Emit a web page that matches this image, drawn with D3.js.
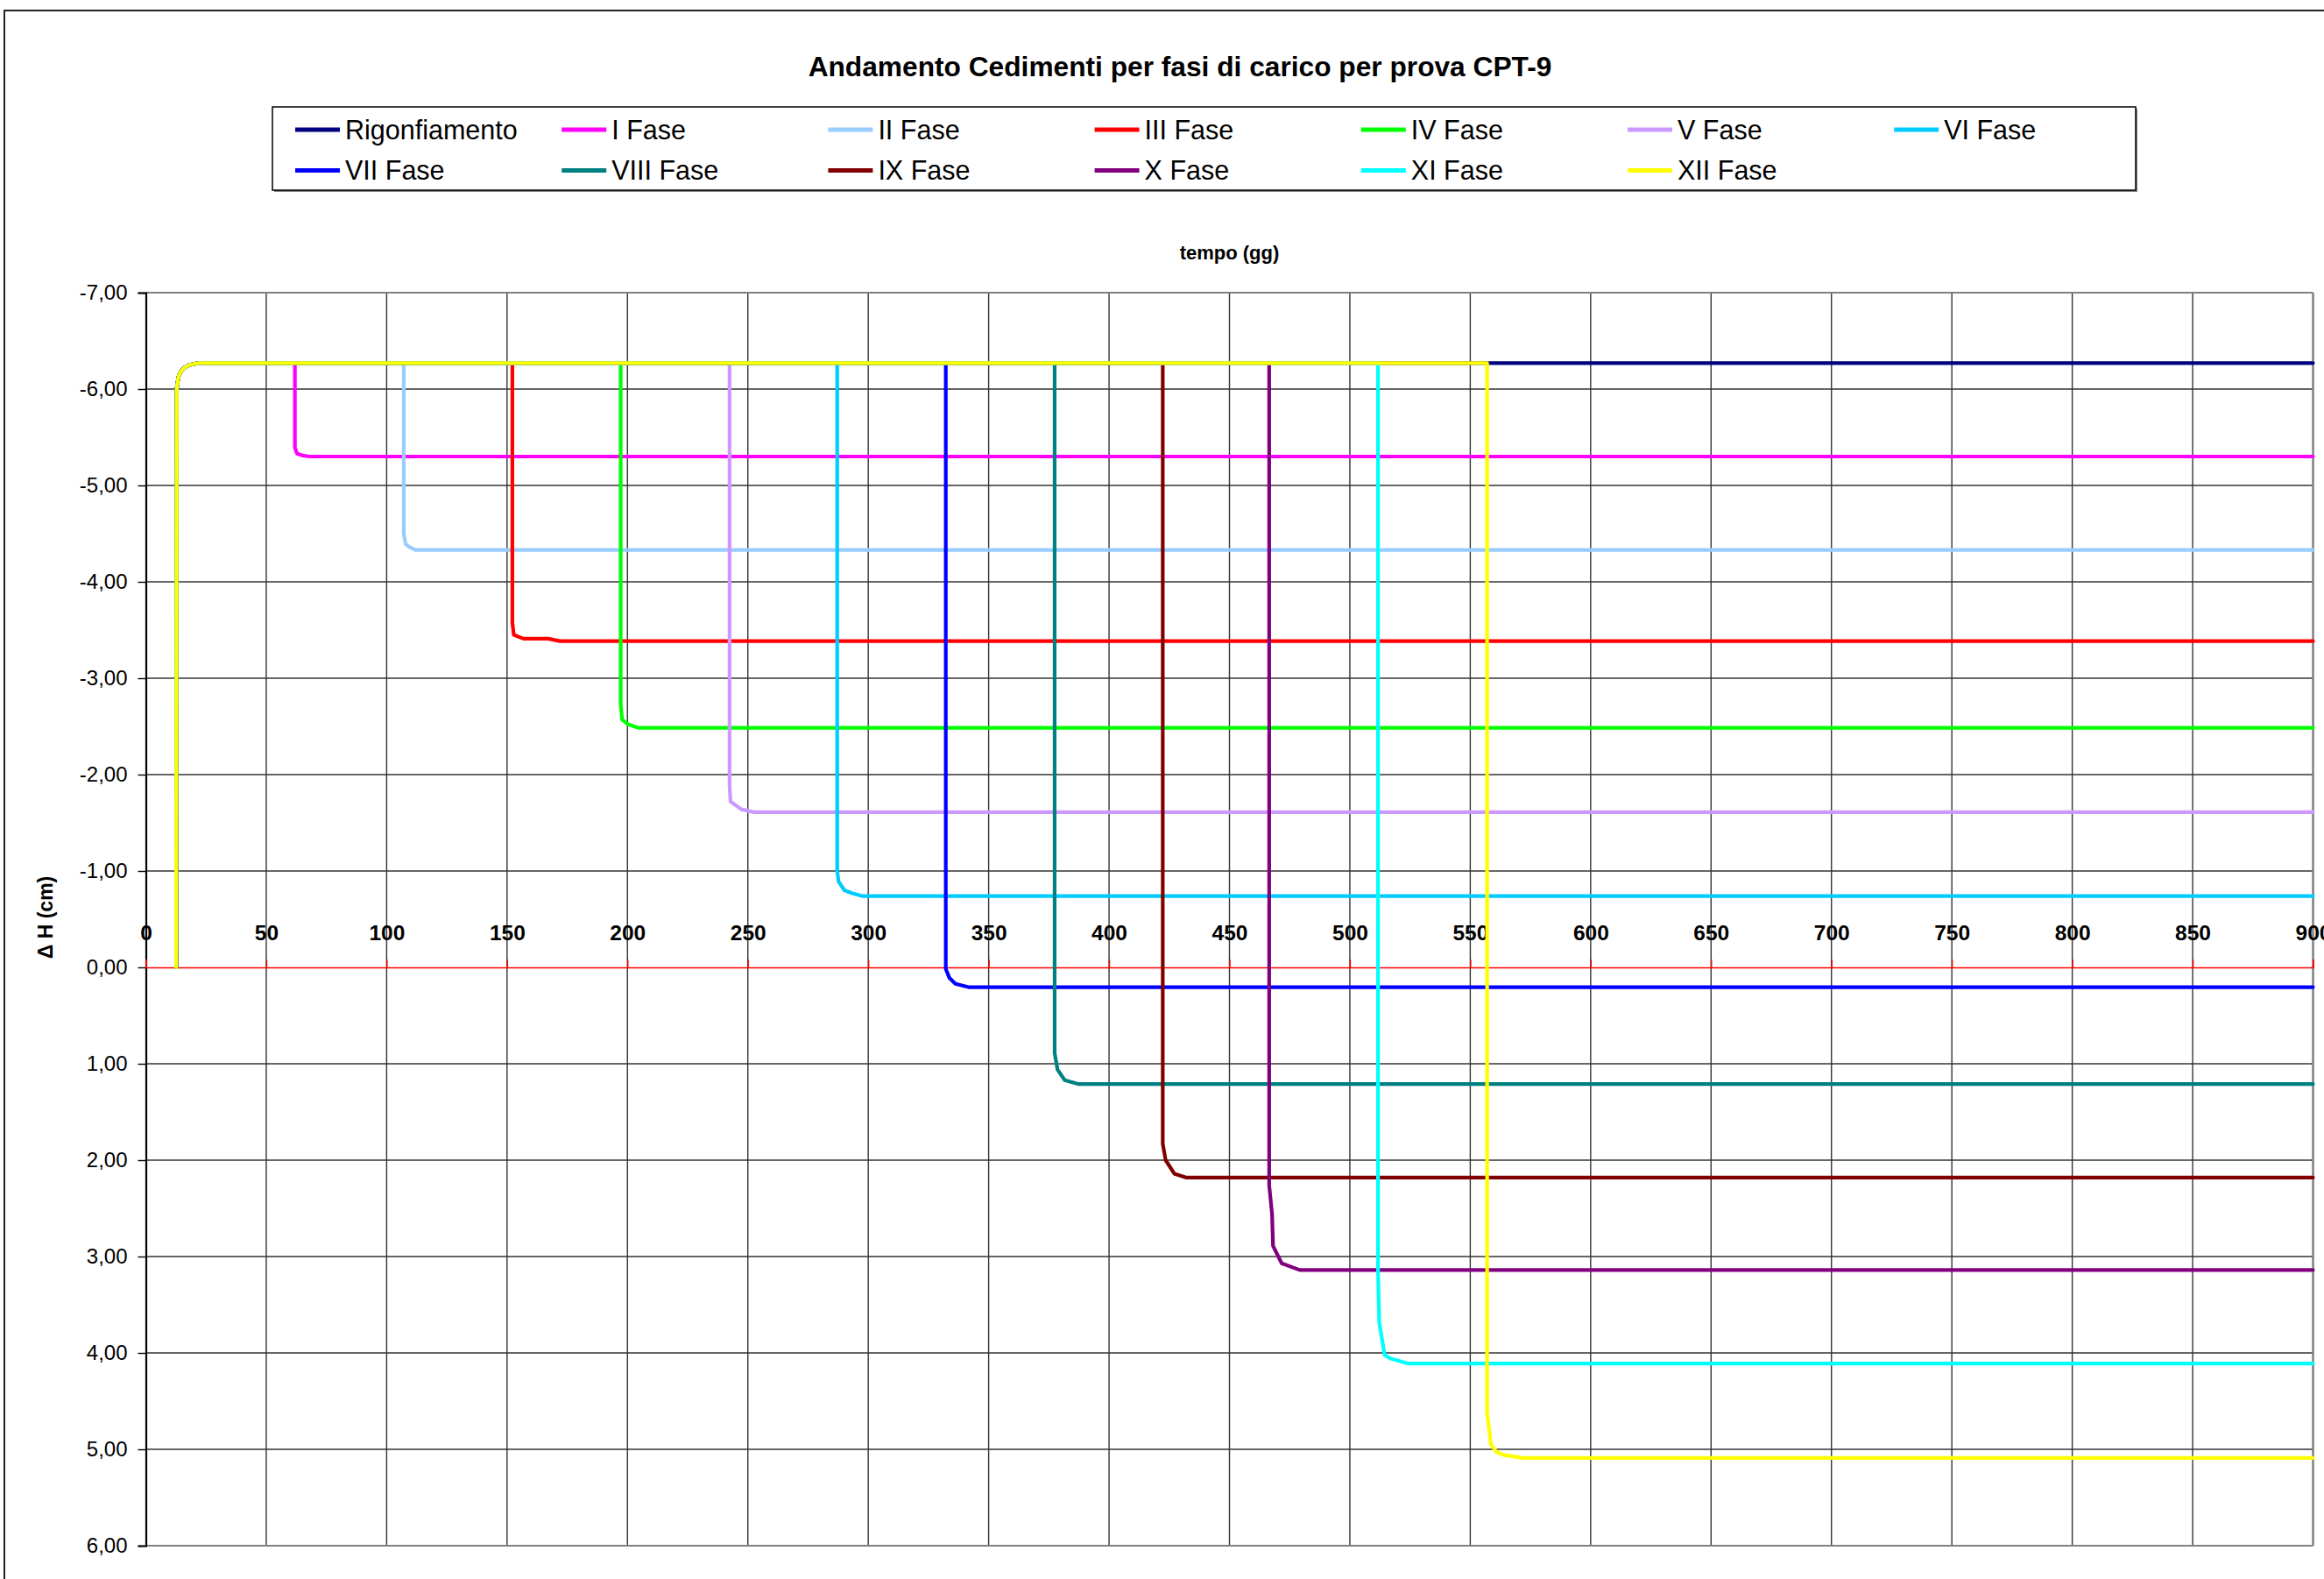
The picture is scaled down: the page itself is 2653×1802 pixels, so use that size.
<!DOCTYPE html>
<html>
<head>
<meta charset="utf-8">
<script src="https://cdn.jsdelivr.net/npm/d3@7"></script>
<style>
  html, body { margin: 0; padding: 0; background: #fff; }
  svg { display: block; font-family: "Liberation Sans", Arial, sans-serif; }
</style>
</head>
<body>
<svg id="chart" width="2653" height="1802"></svg>
<script>
// ---------------- DATA ----------------
const chartTitle = "Andamento Cedimenti per fasi di carico per prova CPT-9";
const xTitle = "tempo (gg)";
const yTitle = "\u0394 H (cm)";

const xTickValues = [0, 50, 100, 150, 200, 250, 300, 350, 400, 450, 500, 550, 600, 650, 700, 750, 800, 850, 900];
const yTickValues = [-7, -6, -5, -4, -3, -2, -1, 0, 1, 2, 3, 4, 5, 6];

const seriesNames = ["Rigonfiamento", "I Fase", "II Fase", "III Fase", "IV Fase", "V Fase", "VI Fase",
                     "VII Fase", "VIII Fase", "IX Fase", "X Fase", "XI Fase", "XII Fase"];
const seriesColors = ["#000080", "#ff00ff", "#99ccff", "#ff0000", "#00ff00", "#cc99ff", "#00ccff",
                      "#0000ff", "#008080", "#800000", "#800080", "#00ffff", "#ffff00"];

// initial swelling curve (time [gg], ΔH [cm]) shared by all series
const swelling = [[12.6, 0], [12.7, -3.0], [12.8, -6.0], [13.5, -6.12], [14.4, -6.18], [16, -6.22], [18, -6.25], [22, -6.27]];

const rigonfiamento = [[900, -6.27]];
const phaseI    = [[61.9, -6.27], [61.9, -5.39], [62.8, -5.33], [65.3, -5.31], [68, -5.30], [900, -5.30]];
const phaseII   = [[107.1, -6.27], [107.1, -4.50], [107.9, -4.39], [109.5, -4.36], [111.9, -4.33], [900, -4.33]];
const phaseIII  = [[152.2, -6.27], [152.2, -3.58], [152.8, -3.45], [156.8, -3.41], [167.1, -3.41], [171.9, -3.385], [900, -3.385]];
const phaseIV   = [[197.2, -6.27], [197.2, -2.73], [197.8, -2.57], [200.4, -2.52], [204.7, -2.485], [900, -2.485]];
const phaseV    = [[242.4, -6.27], [242.4, -1.89], [242.8, -1.72], [247.3, -1.64], [252.5, -1.61], [900, -1.61]];
const phaseVI   = [[287.1, -6.27], [287.1, -1.00], [287.7, -0.89], [290.1, -0.80], [293.2, -0.77], [297.4, -0.74], [900, -0.74]];
const phaseVII  = [[332.2, -6.27], [332.2, 0.015], [333.7, 0.11], [336.2, 0.17], [341.6, 0.205], [900, 0.205]];
const phaseVIII = [[377.4, -6.27], [377.4, 0.89], [378.6, 1.06], [381.6, 1.17], [387.1, 1.21], [900, 1.21]];
const phaseIX   = [[422.3, -6.27], [422.3, 1.83], [423.5, 2.00], [427.1, 2.14], [431.9, 2.18], [900, 2.18]];
const phaseX    = [[466.5, -6.27], [466.5, 2.26], [467.7, 2.56], [468.1, 2.89], [471.7, 3.07], [479.2, 3.14], [900, 3.14]];
const phaseXI   = [[511.7, -6.27], [511.7, 3.14], [512.2, 3.68], [514.4, 4.02], [517.0, 4.06], [524.1, 4.11], [900, 4.11]];
const phaseXII  = [[557.0, -6.27], [557.0, 4.62], [558.6, 4.95], [561, 5.03], [564.1, 5.06], [571.9, 5.09], [900, 5.09]];

const seriesData = [rigonfiamento, phaseI, phaseII, phaseIII, phaseIV, phaseV, phaseVI,
                    phaseVII, phaseVIII, phaseIX, phaseX, phaseXI, phaseXII].map(d => swelling.concat(d));

// ---------------- LAYOUT ----------------
const svg = d3.select("#chart");
const plot = { left: 166.5, right: 2640.5, top: 334, bottom: 1764 };
const x = d3.scaleLinear().domain([0, 900]).range([plot.left, plot.right]);
const y = d3.scaleLinear().domain([-7, 6]).range([plot.top, plot.bottom]);
const fmt = v => v.toFixed(2).replace(".", ",");

// outer chart border (extends past the image on right/bottom)
svg.append("rect").attr("x", 5).attr("y", 12).attr("width", 2800).attr("height", 2000)
  .attr("fill", "#fff").attr("stroke", "#222").attr("stroke-width", 2);

// title
const title = svg.append("text").attr("x", 1347).attr("y", 87).attr("text-anchor", "middle")
  .attr("font-weight", "bold").attr("font-size", 29).attr("fill", "#000").text(chartTitle);
const tw = title.node().getComputedTextLength();
title.attr("font-size", 29 * 849 / tw);

// legend
const lg = svg.append("g");
lg.append("rect").attr("x", 313).attr("y", 124).attr("width", 2127).attr("height", 95).attr("fill", "#808080");
lg.append("rect").attr("x", 311).attr("y", 122).attr("width", 2127).attr("height", 95)
  .attr("fill", "#fff").attr("stroke", "#000").attr("stroke-width", 1.5);
seriesNames.forEach((name, i) => {
  const col = i % 7, row = Math.floor(i / 7);
  const sx = 337 + col * 304.2;
  const sy = row === 0 ? 148 : 194.5;
  lg.append("line").attr("x1", sx).attr("x2", sx + 51).attr("y1", sy).attr("y2", sy)
    .attr("stroke", seriesColors[i]).attr("stroke-width", 5);
  lg.append("text").attr("x", sx + 57).attr("y", sy + 10.5).attr("font-size", 30.5).attr("fill", "#000").text(name);
});

// x-axis title (top)
svg.append("text").attr("x", (plot.left + plot.right) / 2).attr("y", 296).attr("text-anchor", "middle")
  .attr("font-weight", "bold").attr("font-size", 22).text(xTitle);

// y-axis title
svg.append("text").attr("transform", `translate(60,1047) rotate(-90)`).attr("text-anchor", "middle")
  .attr("font-weight", "bold").attr("font-size", 23).text(yTitle);

// grid
const grid = svg.append("g");
grid.selectAll(".vg").data(xTickValues.slice(1, -1)).enter().append("line")
  .attr("x1", d => x(d)).attr("x2", d => x(d)).attr("y1", plot.top).attr("y2", plot.bottom)
  .attr("stroke", "#333").attr("stroke-width", 1.4);
grid.selectAll(".hg").data(yTickValues.slice(1, -1).filter(v => v !== 0)).enter().append("line")
  .attr("x1", plot.left).attr("x2", plot.right).attr("y1", d => y(d)).attr("y2", d => y(d))
  .attr("stroke", "#333").attr("stroke-width", 1.4);

// plot frame (top, right, bottom gray)
svg.append("line").attr("x1", plot.left).attr("x2", plot.right).attr("y1", plot.top).attr("y2", plot.top)
  .attr("stroke", "#808080").attr("stroke-width", 2);
svg.append("line").attr("x1", plot.left).attr("x2", plot.right).attr("y1", plot.bottom).attr("y2", plot.bottom)
  .attr("stroke", "#808080").attr("stroke-width", 2);
svg.append("line").attr("x1", plot.right).attr("x2", plot.right).attr("y1", plot.top).attr("y2", plot.bottom)
  .attr("stroke", "#808080").attr("stroke-width", 2.5);

// y axis
const yAxis = d3.axisLeft(y).tickValues(yTickValues).tickFormat(fmt).tickSize(9).tickPadding(12);
const yg = svg.append("g").attr("transform", `translate(${plot.left},0)`).call(yAxis);
yg.select(".domain").attr("stroke", "#000").attr("stroke-width", 2.2);
yg.selectAll(".tick line").attr("stroke", "#000").attr("stroke-width", 1.4);
yg.selectAll(".tick text").attr("font-size", 24).attr("font-family", "Liberation Sans, Arial, sans-serif").attr("fill", "#000");

// x axis at ΔH = 0 (red), labels above
const xAxis = d3.axisTop(x).tickValues(xTickValues).tickFormat(d3.format("d")).tickSize(9).tickPadding(22);
const xg = svg.append("g").attr("transform", `translate(0,${y(0)})`).call(xAxis);
xg.select(".domain").attr("stroke", "#ff0000").attr("stroke-width", 1.4);
xg.selectAll(".tick line").attr("stroke", "#ff0000").attr("stroke-width", 1.4);
xg.selectAll(".tick text").attr("font-size", 24.5).attr("font-weight", "bold")
  .attr("font-family", "Liberation Sans, Arial, sans-serif").attr("fill", "#000");

// series
const line = d3.line().x(d => x(d[0])).y(d => y(d[1]));
svg.append("g").selectAll("path").data(seriesData).enter().append("path")
  .attr("d", line).attr("fill", "none")
  .attr("stroke", (d, i) => seriesColors[i]).attr("stroke-width", 4.2)
  .attr("stroke-linejoin", "round").attr("stroke-linecap", "round");
</script>
</body>
</html>
